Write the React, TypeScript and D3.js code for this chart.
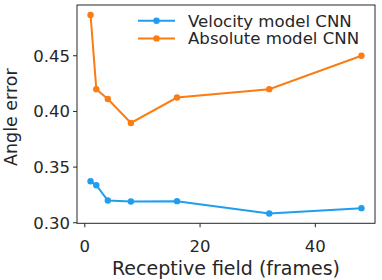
import { scaleLinear, line } from "d3";

const width = 382;
const height = 280;

const fields = [1, 2, 4, 8, 16, 32, 48];
const velocityErr = [0.3373, 0.3337, 0.32, 0.3191, 0.3194, 0.3083, 0.3131];
const absoluteErr = [0.4867, 0.42, 0.4111, 0.3896, 0.4125, 0.42, 0.45];
const xTicks = [0, 20, 40];
const yTicks = [0.3, 0.35, 0.4, 0.45];

const blue = "#1f9ef0";
const orange = "#fb7c12";
const ink = "#262626";

const left = 77;
const right = 375;
const top = 5;
const bottom = 223.3;

export default function App() {
  const x = scaleLinear().domain([-1.35, 50.35]).range([left, right]);
  const y = scaleLinear().domain([0.2995, 0.4956]).range([bottom, top]);

  const mk = (vals: number[]) =>
    line<number>()
      .x((_, i) => x(fields[i]))
      .y((d) => y(d))(vals) ?? "";

  const series = [
    { name: "Velocity model CNN", vals: velocityErr, color: blue },
    { name: "Absolute model CNN", vals: absoluteErr, color: orange },
  ];

  return (
    <svg
      width={width}
      height={height}
      style={{ position: "absolute", left: 0, top: 0, fontFamily: "'DejaVu Sans'" }}
    >
      <rect width={width} height={height} fill="#fff" />
      {series.map((s) => (
        <g key={s.name}>
          <path d={mk(s.vals)} fill="none" stroke={s.color} strokeWidth={2} />
          {s.vals.map((v, i) => (
            <circle key={i} cx={x(fields[i])} cy={y(v)} r={3.2} fill={s.color} />
          ))}
        </g>
      ))}
      <rect
        x={left}
        y={top}
        width={right - left}
        height={bottom - top}
        fill="none"
        stroke={ink}
        strokeWidth={1}
      />
      {xTicks.map((t) => (
        <g key={t}>
          <line x1={x(t)} x2={x(t)} y1={bottom} y2={bottom + 4} stroke={ink} />
          <text x={x(t)} y={252} textAnchor="middle" fontSize={16.5} fill={ink}>
            {t}
          </text>
        </g>
      ))}
      {yTicks.map((t) => (
        <g key={t}>
          <line x1={left - 4} x2={left} y1={y(t)} y2={y(t)} stroke={ink} />
          <text
            x={left - 7}
            y={y(t)}
            dy="0.36em"
            textAnchor="end"
            fontSize={16.5}
            fill={ink}
          >
            {t.toFixed(2)}
          </text>
        </g>
      ))}
      <text
        x={(left + right) / 2}
        y={275}
        textAnchor="middle"
        fontSize={19}
        fill={ink}
      >
        Receptive field (frames)
      </text>
      <text
        transform={`translate(16.5,${(top + bottom) / 2 + 3}) rotate(-90)`}
        textAnchor="middle"
        fontSize={17.5}
        fill={ink}
      >
        Angle error
      </text>
      {series.map((s, i) => {
        const ly = 20.7 + i * 17.7;
        return (
          <g key={s.name}>
            <line x1={138} x2={175} y1={ly} y2={ly} stroke={s.color} strokeWidth={2} />
            <circle cx={156.5} cy={ly} r={3.2} fill={s.color} />
            <text x={188} y={ly} dy="0.36em" fontSize={16.6} fill={ink}>
              {s.name}
            </text>
          </g>
        );
      })}
    </svg>
  );
}
